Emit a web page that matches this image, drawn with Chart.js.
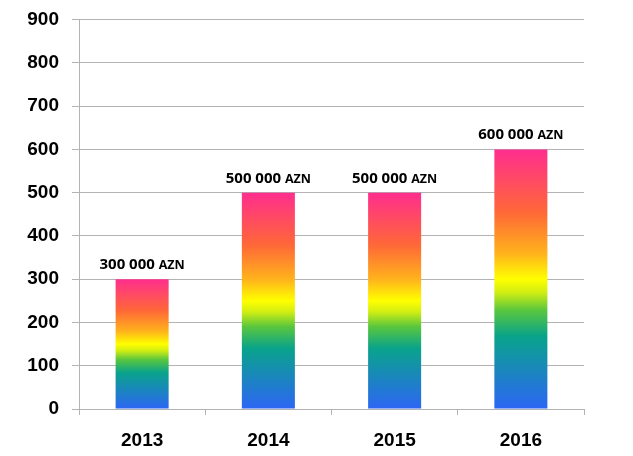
<!DOCTYPE html>
<html>
<head>
<meta charset="utf-8">
<script src="https://cdn.jsdelivr.net/npm/chart.js@4"></script>
<style>
    html, body { margin: 0; padding: 0; background: #fff; }
    #wrap { width: 633px; height: 456px; }
</style>
</head>
<body>
<div id="wrap"><canvas id="budgetChart"></canvas></div>
<script>
// Chart data
const years = ['2013', '2014', '2015', '2016'];
const amounts = [300, 500, 500, 600];
const amountLabels = ['300 000', '500 000', '500 000', '600 000'];
const unitLabel = 'AZN';

// Rainbow stops, bottom of bar (0) to top (1)
const rainbowStops = [
    [0.00, '#2d66f5'],
    [0.28, '#09a38b'],
    [0.38, '#59c63e'],
    [0.45, '#d2ee12'],
    [0.50, '#ffff00'],
    [0.60, '#ffb21c'],
    [0.76, '#ff6738'],
    [1.00, '#ff2e8e']
];

function barGradient(context) {
    const chart = context.chart;
    const area = chart.chartArea;
    if (!area || context.type !== 'data') return '#ff6738';
    const yScale = chart.scales.y;
    const top = yScale.getPixelForValue(context.raw);
    const bottom = yScale.getPixelForValue(0);
    const g = chart.ctx.createLinearGradient(0, bottom, 0, top);
    rainbowStops.forEach(([pos, color]) => g.addColorStop(pos, color));
    return g;
}

const valueLabels = {
    id: 'valueLabels',
    afterDatasetsDraw(chart) {
        const ctx = chart.ctx;
        const meta = chart.getDatasetMeta(0);
        ctx.save();
        ctx.fillStyle = '#000';
        ctx.textBaseline = 'alphabetic';
        ctx.textAlign = 'left';
        meta.data.forEach((bar, i) => {
            const bigFont = 'bold 15px "Open Sans"';
            const smallFont = 'bold 12.5px "Open Sans"';
            ctx.font = bigFont;
            const w1 = ctx.measureText(amountLabels[i] + ' ').width;
            ctx.font = smallFont;
            const w2 = ctx.measureText(unitLabel).width;
            const x0 = bar.x - (w1 + w2) / 2;
            const y0 = bar.y - 10;
            ctx.font = bigFont;
            ctx.fillText(amountLabels[i] + ' ', x0, y0);
            ctx.font = smallFont;
            ctx.fillText(unitLabel, x0 + w1, y0);
        });
        ctx.restore();
    }
};

new Chart(document.getElementById('budgetChart'), {
    type: 'bar',
    data: {
        labels: years,
        datasets: [{
            data: amounts,
            backgroundColor: barGradient,
            borderWidth: 0,
            categoryPercentage: 1,
            barPercentage: 0.42
        }]
    },
    options: {
        responsive: true,
        maintainAspectRatio: false,
        animation: false,
        layout: { padding: { top: 0, right: 49, left: 0, bottom: 0 } },
        plugins: { legend: { display: false }, tooltip: { enabled: false } },
        scales: {
            y: {
                min: 0,
                max: 900,
                ticks: {
                    stepSize: 100,
                    color: '#000',
                    padding: 13,
                    font: { family: 'Liberation Sans', size: 19, weight: 'bold', lineHeight: 0.7 }
                },
                grid: { color: '#b3b3b3', tickLength: 7, lineWidth: 1 },
                border: { color: '#b3b3b3' },
                afterFit(scale) { scale.width = 79; }
            },
            x: {
                offset: true,
                ticks: {
                    color: '#000',
                    padding: 14,
                    font: { family: 'Liberation Sans', size: 19, weight: 'bold' }
                },
                grid: { offset: true, drawOnChartArea: false, color: '#b3b3b3', tickLength: 6 },
                border: { color: '#b3b3b3' },
                afterFit(scale) { scale.height = 47; }
            }
        }
    },
    plugins: [valueLabels]
});
</script>
</body>
</html>
